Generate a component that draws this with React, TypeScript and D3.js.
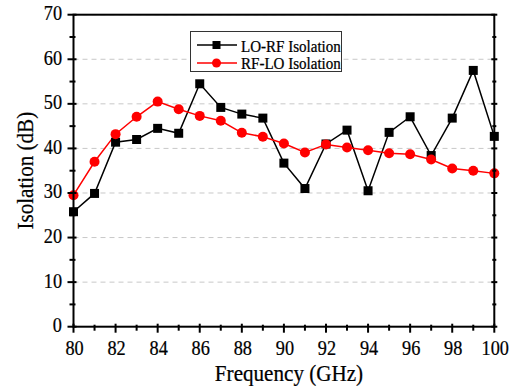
import React from "react";
import * as d3 from "d3";

const freqs = [80, 81, 82, 83, 84, 85, 86, 87, 88, 89, 90, 91, 92, 93, 94, 95, 96, 97, 98, 99, 100];
const loRf = [25.8, 29.9, 41.4, 42.0, 44.5, 43.4, 54.5, 49.2, 47.7, 46.8, 36.7, 31.0, 41.0, 44.1, 30.5, 43.6, 47.1, 38.4, 46.8, 57.5, 42.7];
const rfLo = [29.5, 37.0, 43.2, 47.1, 50.5, 48.8, 47.3, 46.2, 43.5, 42.6, 41.1, 39.1, 40.9, 40.2, 39.6, 38.9, 38.7, 37.5, 35.5, 35.0, 34.4];
const xTicks = [80, 82, 84, 86, 88, 90, 92, 94, 96, 98, 100];
const xMinor = [81, 83, 85, 87, 89, 91, 93, 95, 97, 99];
const yTicks = [0, 10, 20, 30, 40, 50, 60, 70];
const yMinor = [5, 15, 25, 35, 45, 55, 65];
const gridVals = [10, 20, 30, 40, 50, 60, 70];
const seriesNames = ["LO-RF Isolation", "RF-LO Isolation"];

const FONT = '"Liberation Serif", "Times New Roman", serif';

function T(props: { x: number; y: number; sx: number; size: number; anchor?: string; rot?: number; children: React.ReactNode }) {
  const { x, y, sx, size, anchor = "start", rot = 0, children } = props;
  return (
    <text
      transform={`translate(${x},${y})${rot ? ` rotate(${rot})` : ""} scale(${sx},1)`}
      textAnchor={anchor as any}
      fontSize={size}
      style={{ fontFamily: FONT }}
      fill="#000"
      stroke="#000"
      strokeWidth={0.25}
    >
      {children}
    </text>
  );
}

export default function App() {
  const W = 515, H = 389;
  const L = 73.5, R = 494.3, Tp = 14.7, B = 326.7;
  const x = d3.scaleLinear().domain([80, 100]).range([L, R]);
  const y = d3.scaleLinear().domain([0, 70]).range([B, Tp]);
  const line = d3.line<number>().x((_, i) => x(freqs[i])).y((d) => y(d));
  return (
    <svg width={W} height={H} style={{ position: "absolute", left: 0, top: 0 }}>
      <rect width={W} height={H} fill="#fff" />
      {gridVals.map((v) => (
        <line key={"g" + v} x1={L} x2={R} y1={y(v)} y2={y(v)} stroke="#c8c8c8" strokeWidth={1} strokeDasharray="5,4" />
      ))}
      <path d={line(loRf) || ""} fill="none" stroke="#000" strokeWidth={1.5} />
      <path d={line(rfLo) || ""} fill="none" stroke="#ff0000" strokeWidth={1.5} />
      {loRf.map((v, i) => (
        <rect key={"s" + i} x={x(freqs[i]) - 4.5} y={y(v) - 4.5} width={9} height={9} fill="#000" />
      ))}
      {rfLo.map((v, i) => (
        <circle key={"c" + i} cx={x(freqs[i])} cy={y(v)} r={5} fill="#ff0000" />
      ))}
      <rect x={L} y={Tp} width={R - L} height={B - Tp} fill="none" stroke="#000" strokeWidth={2} />
      {xTicks.map((t) => (
        <g key={"xt" + t}>
          <line x1={x(t)} x2={x(t)} y1={B - 3} y2={B + 6} stroke="#000" strokeWidth={2} />
          <T x={x(t) + 1} y={355} sx={0.83} size={22} anchor="middle">{t}</T>
        </g>
      ))}
      {xMinor.map((t) => (
        <line key={"xm" + t} x1={x(t)} x2={x(t)} y1={B - 2} y2={B + 4} stroke="#000" strokeWidth={2} />
      ))}
      {yTicks.map((t) => (
        <g key={"yt" + t}>
          <line x1={L - 6} x2={L + 3} y1={y(t)} y2={y(t)} stroke="#000" strokeWidth={2} />
          <line x1={R - 3} x2={R + 3} y1={y(t)} y2={y(t)} stroke="#000" strokeWidth={2} />
          <T x={62} y={y(t) + 5.5} sx={0.83} size={22} anchor="end">{t}</T>
        </g>
      ))}
      {yMinor.map((t) => (
        <g key={"ym" + t}>
          <line x1={L - 4} x2={L + 2} y1={y(t)} y2={y(t)} stroke="#000" strokeWidth={2} />
          <line x1={R - 2} x2={R + 2} y1={y(t)} y2={y(t)} stroke="#000" strokeWidth={2} />
        </g>
      ))}
      <T x={289} y={381} sx={0.88} size={24} anchor="middle">Frequency (GHz)</T>
      <T x={33} y={(Tp + B) / 2} sx={0.88} size={24} anchor="middle" rot={-90}>Isolation (dB)</T>
      <rect x={190.5} y={31.5} width={151} height={40} fill="#fff" stroke="#333" strokeWidth={1} />
      <line x1={197} x2={237} y1={45} y2={45} stroke="#000" strokeWidth={1.5} />
      <rect x={212.5} y={41} width={8} height={8} fill="#000" />
      <T x={241} y={52} sx={0.94} size={16}>{seriesNames[0]}</T>
      <line x1={197} x2={237} y1={63} y2={63} stroke="#ff0000" strokeWidth={1.5} />
      <circle cx={216.5} cy={63} r={4.5} fill="#ff0000" />
      <T x={241} y={68.5} sx={0.94} size={16}>{seriesNames[1]}</T>
    </svg>
  );
}
